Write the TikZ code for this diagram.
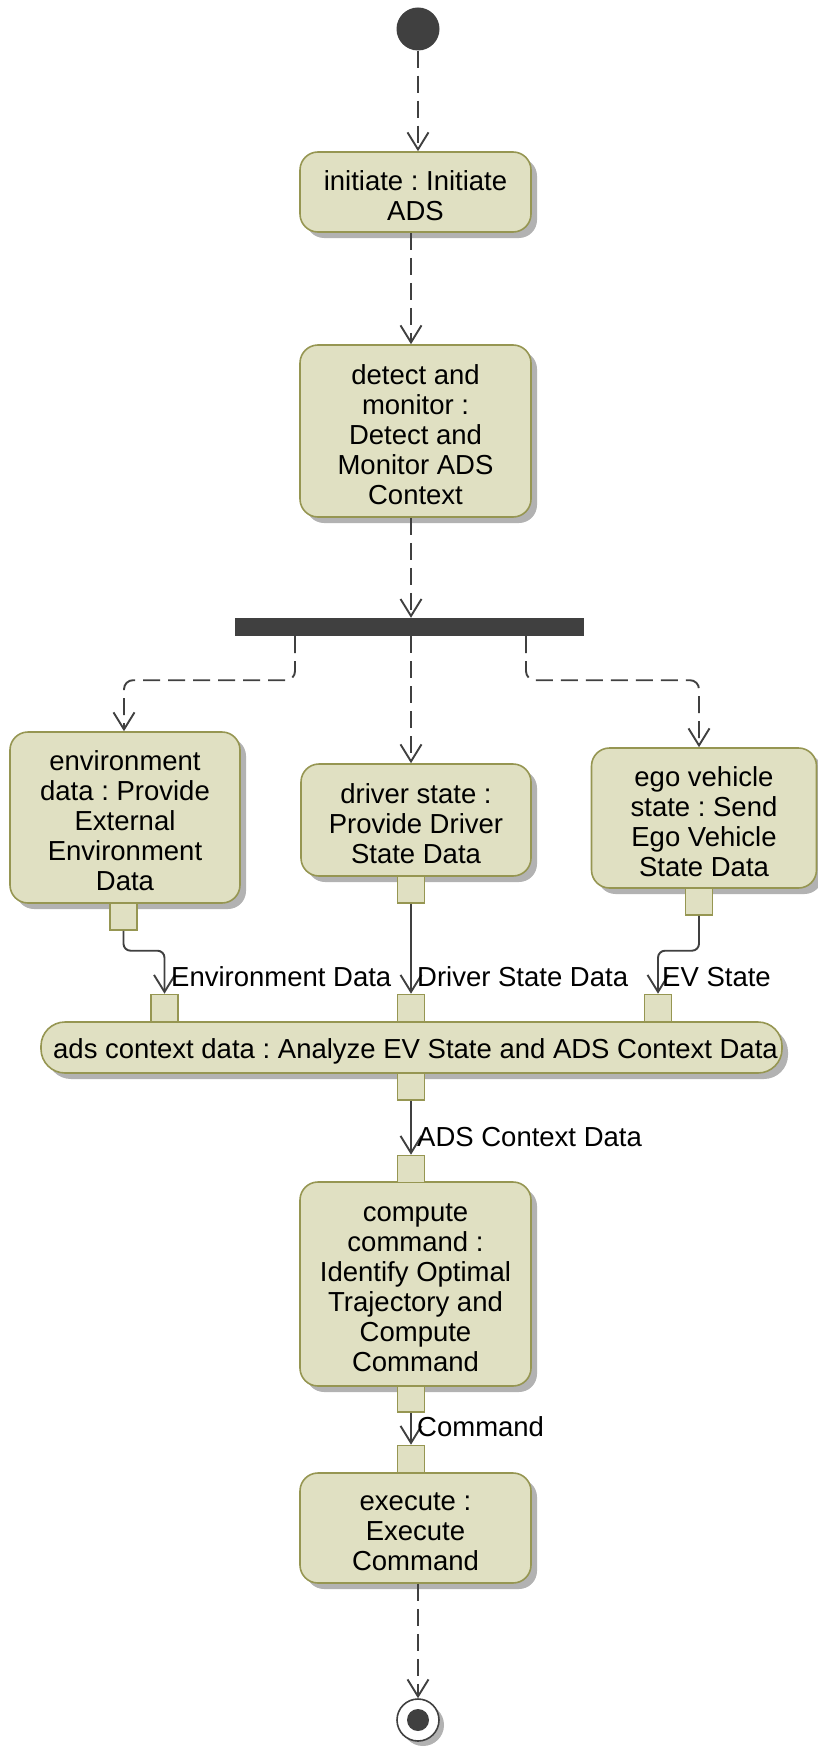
\documentclass[tikz,border=0pt]{standalone}
\usepackage{fontspec}
\setmainfont{Liberation Sans}
\usetikzlibrary{arrows.meta,shadows}
\definecolor{actfill}{RGB}{224,224,194}
\definecolor{actdraw}{RGB}{150,150,82}
\definecolor{shade}{RGB}{178,178,178}
\definecolor{ink}{RGB}{64,64,64}
\frenchspacing
\begin{document}
\begin{tikzpicture}[x=1pt,y=-1pt,
 every node/.style={font=\fontsize{27.5}{30}\selectfont},
 act/.style={draw=actdraw, fill=actfill, line width=1.6pt, rounded corners=18pt, inner sep=0pt,
   drop shadow={shadow xshift=6pt, shadow yshift=-6pt, fill=shade, opacity=1}},
 acttext/.style={align=center, inner sep=0pt},
 pinbox/.style={draw=actdraw, fill=actfill, line width=1.6pt, minimum size=27pt, inner sep=0pt},
 ctrl/.style={draw=ink, line width=1.9pt, dash pattern=on 17pt off 8pt, -{Straight Barb[length=17pt,width=21pt]}},
 flow/.style={draw=ink, line width=1.9pt, -{Straight Barb[length=17pt,width=21pt]}},
 lbl/.style={anchor=west, inner sep=0pt},
]
\useasboundingbox (0,0) rectangle (818,1747);

% start / final
\node[circle, fill=ink, minimum size=43pt, inner sep=0pt] (start) at (418,29) {};

% actions
\node[act, minimum width=231pt, minimum height=80pt] (initiate) at (415.5,192) {};
\node[acttext] (initiate-t) at ([yshift=-3.5pt]initiate.center) {initiate : Initiate\\ADS};
\node[act, minimum width=231pt, minimum height=172pt] (detect) at (415.5,431) {};
\node[acttext] (detect-t) at ([yshift=-4pt]detect.center) {detect and\\monitor :\\Detect and\\Monitor ADS\\Context};
\node[fill=ink, minimum width=349pt, minimum height=18pt, inner sep=0pt] (bar) at (409.5,627) {};
\node[act, minimum width=230pt, minimum height=171pt] (env) at (125,817.5) {};
\node[acttext] (env-t) at ([yshift=-3.5pt]env.center) {environment\\data : Provide\\External\\Environment\\Data};
\node[act, minimum width=230pt, minimum height=112pt] (driver) at (416,820) {};
\node[acttext] (driver-t) at ([yshift=-3.5pt]driver.center) {driver state :\\Provide Driver\\State Data};
\node[act, minimum width=225pt, minimum height=140pt] (ego) at (704,818) {};
\node[acttext] (ego-t) at ([yshift=-4pt]ego.center) {ego vehicle\\state : Send\\Ego Vehicle\\State Data};
\node[act, rounded corners=24pt, minimum width=741pt, minimum height=51pt] (ads) at (411.5,1047.5) {};
\node[acttext] (ads-t) at ([xshift=4pt,yshift=-4pt]ads.center) {ads context data : Analyze EV State and ADS Context Data};
\node[act, minimum width=231pt, minimum height=204pt] (compute) at (415.5,1284) {};
\node[acttext] (compute-t) at ([yshift=-3.5pt]compute.center) {compute\\command :\\Identify Optimal\\Trajectory and\\Compute\\Command};
\node[act, minimum width=231pt, minimum height=110pt] (execute) at (415.5,1528) {};
\node[acttext] (execute-t) at ([yshift=-3.5pt]execute.center) {execute :\\Execute\\Command};

\node[circle, draw=ink, fill=white, line width=1.6pt, minimum size=42pt, inner sep=0pt,
  drop shadow={shadow xshift=5pt, shadow yshift=-5pt, fill=shade, opacity=1}] (final) at (418,1720) {};
\node[circle, fill=ink, minimum size=22pt, inner sep=0pt] (finaldot) at (final) {};

% pins
\node[pinbox] (envout) at (123.5,916.5) {};
\node[pinbox] (driverout) at (411,889.5) {};
\node[pinbox] (egoout) at (699,901.5) {};
\node[pinbox] (envin) at (164.5,1008) {};
\node[pinbox] (driverin) at (411,1008) {};
\node[pinbox] (evin) at (658,1008) {};
\node[pinbox] (adsout) at (411,1086.5) {};
\node[pinbox] (compin) at (411,1169) {};
\node[pinbox, minimum height=26pt] (compout) at (411,1399) {};
\node[pinbox] (exin) at (411,1459) {};

% control flows
\draw[ctrl] (start.south) -- (start.south |- initiate.north);
\draw[ctrl] (initiate.south -| driverout) -- (detect.north -| driverout);
\draw[ctrl] (detect.south -| driverout) -- (bar.north -| driverout);
\draw[ctrl] (bar.south -| driverout) -- (driver.north -| driverout);
\draw[ctrl, rounded corners=9pt] ([xshift=-114.5pt]bar.south) |- ([xshift=-1pt,yshift=51pt]env.north) -- ([xshift=-1pt]env.north);
\draw[ctrl, rounded corners=9pt] ([xshift=116.5pt]bar.south) |- ([xshift=-5pt,yshift=67pt]ego.north) -- ([xshift=-5pt]ego.north);
\draw[ctrl] (execute.south -| final) -- (final.north);

% object flows
\draw[flow, rounded corners=7pt] (envout.south) |- ([yshift=43pt]envin.north) -- (envin.north);
\draw[flow] (driverout.south) -- (driverin.north);
\draw[flow, rounded corners=7pt] (egoout.south) |- ([yshift=43pt]evin.north) -- (evin.north);
\draw[flow] (adsout.south) -- (compin.north);
\draw[flow] (compout.south) -- (exin.north);

% labels
\node[lbl] (l1) at (171,977) {Environment Data};
\node[lbl] (l2) at (417,977) {Driver State Data};
\node[lbl] (l3) at (662,977) {EV State};
\node[lbl] (l4) at (417,1137) {ADS Context Data};
\node[lbl] (l5) at (417,1427) {Command};
\end{tikzpicture}
\end{document}
